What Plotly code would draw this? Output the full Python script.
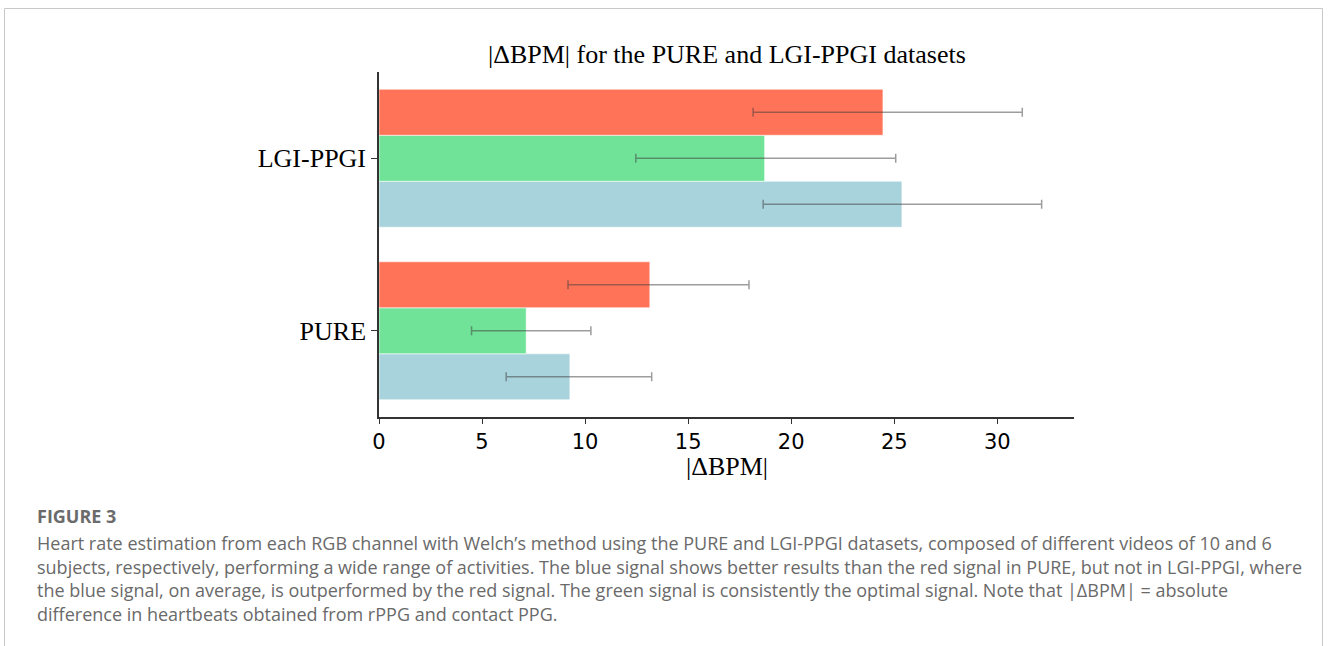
import plotly.graph_objects as go

# ---- data ----
categories = ["PURE", "LGI-PPGI"]
series_names = ["Blue", "Green", "Red"]
blue_vals = [9.26, 25.37]
blue_err_plus = [3.97, 6.78]
blue_err_minus = [3.09, 6.73]
green_vals = [7.14, 18.71]
green_err_plus = [3.14, 6.36]
green_err_minus = [2.65, 6.25]
red_vals = [13.14, 24.45]
red_err_plus = [4.81, 6.76]
red_err_minus = [3.97, 6.30]
x_ticks = [0, 5, 10, 15, 20, 25, 30]

title_text = "|ΔBPM| for the PURE and LGI-PPGI datasets"
xaxis_title = "|ΔBPM|"
fig_label = "FIGURE 3"
caption_lines = [
    "Heart rate estimation from each RGB channel with Welch’s method using the PURE and LGI-PPGI datasets, composed of different videos of 10 and 6",
    "subjects, respectively, performing a wide range of activities. The blue signal shows better results than the red signal in PURE, but not in LGI-PPGI, where",
    "the blue signal, on average, is outperformed by the red signal. The green signal is consistently the optimal signal. Note that |ΔBPM| = absolute",
    "difference in heartbeats obtained from rPPG and contact PPG.",
]

colors = {"Blue": "#A9D3DC", "Green": "#70E398", "Red": "#FF7459"}
vals = {"Blue": (blue_vals, blue_err_plus, blue_err_minus),
        "Green": (green_vals, green_err_plus, green_err_minus),
        "Red": (red_vals, red_err_plus, red_err_minus)}

W, H = 1328, 646
L, R, T, B = 379, 1328 - 1074, 72, 646 - 417
PW, PH = W - L - R, H - T - B


def px(x):
    return (x - L) / PW


def py(y):
    return (H - B - y) / PH


fig = go.Figure()
for name in series_names:
    v, ep, em = vals[name]
    fig.add_trace(go.Bar(
        y=categories, x=v, orientation="h", name=name,
        marker=dict(color=colors[name], line=dict(color="rgba(255,255,255,0.7)", width=0.8)),
        error_x=dict(type="data", symmetric=False, array=ep, arrayminus=em,
                     color="rgba(60,60,60,0.5)", thickness=1.5, width=4.5),
        hoverinfo="skip",
    ))

fig.update_layout(
    width=W, height=H,
    margin=dict(l=L, r=R, t=T, b=B, pad=0),
    paper_bgcolor="white", plot_bgcolor="white",
    barmode="group", bargap=0.2, bargroupgap=0,
    showlegend=False,
    hovermode=False,
    xaxis=dict(range=[0, 33.72], tickvals=x_ticks, ticktext=[str(t) for t in x_ticks],
               showgrid=False, zeroline=False, showline=True, linecolor="#333333", linewidth=1.5,
               ticks="outside", ticklen=5, tickwidth=1.2, tickcolor="#333333",
               tickfont=dict(family="DejaVu Sans", size=21, color="black")),
    yaxis=dict(range=[-0.5, 1.5], type="category", categoryorder="array", categoryarray=categories,
               showgrid=False, zeroline=False, showline=True, linecolor="#333333", linewidth=1.5,
               ticks="outside", ticklen=6, tickwidth=1.2, tickcolor="#333333",
               tickfont=dict(family="Liberation Serif", size=26, color="black")),
    font=dict(family="Liberation Serif"),
)

ann = []
ann.append(dict(text=title_text, x=0.5, y=py(55), xref="paper", yref="paper",
                xanchor="center", yanchor="middle", showarrow=False,
                font=dict(family="Liberation Serif", size=26, color="black")))
ann.append(dict(text=xaxis_title, x=0.5, y=py(466), xref="paper", yref="paper",
                xanchor="center", yanchor="middle", showarrow=False,
                font=dict(family="Liberation Serif", size=26, color="black")))
ann.append(dict(text="<b>" + fig_label + "</b>", x=px(35), y=py(516), xref="paper", yref="paper",
                xanchor="left", yanchor="middle", showarrow=False,
                font=dict(family="Open Sans", size=18, color="#6b6b6b")))
line_y = [543, 566.5, 590, 613.5]
for txt, yy in zip(caption_lines, line_y):
    ann.append(dict(text=txt, x=px(35), y=py(yy), xref="paper", yref="paper",
                    xanchor="left", yanchor="middle", showarrow=False,
                    font=dict(family="Open Sans", size=18, color="#6a6a6a")))
fig.update_layout(annotations=ann)

fig.add_shape(type="rect", xref="paper", yref="paper",
              x0=px(4.5), x1=px(1322.5), y0=py(720), y1=py(8.5),
              line=dict(color="#c8c8c8", width=1), fillcolor="rgba(0,0,0,0)", layer="below")

fig.write_html("out.html", config={"displayModeBar": False})
